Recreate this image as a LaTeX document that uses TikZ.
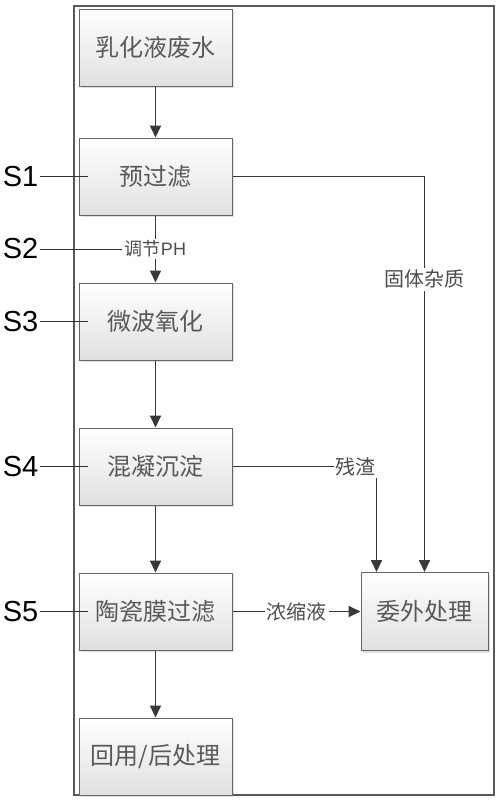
\documentclass[tikz,border=0pt]{standalone}
\usepackage{fontspec}
\setmainfont{Liberation Sans}
\newfontfamily\cjk{Noto Sans CJK SC}
\usetikzlibrary{positioning, arrows.meta, shadows}
\tikzstyle{arrow} = [draw=black!78, line width=1.8pt, -{Triangle[length=12pt,width=11pt]}]

\begin{document}
\begin{tikzpicture}[
    x=1pt, y=-1pt,
    box/.style={rectangle, minimum width=153pt, minimum height=77pt, align=center, draw=black!60, line width=1pt, top color=white, bottom color=black!12, drop shadow={shadow xshift=2pt, shadow yshift=-2pt, opacity=0.25}, text=black!65, font=\cjk\fontsize{24}{28}\selectfont},
    flowlabel/.style={fill=white, inner sep=2pt, text=black!70, font=\cjk\fontsize{20}{22}\selectfont},
    slabel/.style={inner sep=1pt, font=\fontsize{29}{31}\selectfont},
    sline/.style={draw=black!80, line width=0.9pt},
    frame/.style={draw=black!65, line width=1.2pt}
]
    \useasboundingbox (0,0) rectangle (500,803);

    % Frame
    \draw[frame] (74,6) rectangle (494,795);

    % Main line
    \node[box] (raw) at (155.5,47.5) {乳化液废水};
    \node[box, below=51pt of raw] (prefilter) {预过滤};
    \node[box, below=67pt of prefilter] (microwave) {微波氧化};
    \node[box, below=67pt of microwave] (coag) {混凝沉淀};
    \node[box, below=67pt of coag] (membrane) {陶瓷膜过滤};
    \node[box, below=67pt of membrane] (reuse) {回用/后处理};

    % Outsourced treatment
    \node[box, minimum width=127pt, minimum height=78pt, right=128pt of membrane] (outside) {委外处理};

    % Connections
    \draw[arrow] (raw) -- (prefilter);
    \draw[arrow] (prefilter) -- node[flowlabel, font=\cjk\fontsize{18}{20}\selectfont] (ph) {调节\fontspec{Liberation Sans}PH} (microwave);
    \draw[arrow] (microwave) -- (coag);
    \draw[arrow] (coag) -- (membrane);
    \draw[arrow] (membrane) -- (reuse);
    \draw[arrow] (membrane) -- node[flowlabel] {浓缩液} (outside);
    \draw[arrow] (prefilter.east) -| node[flowlabel, pos=0.63] {固体杂质} (outside.north);
    \draw[arrow] (coag.east) -| node[flowlabel, pos=0.5, anchor=east, xshift=2pt] {残渣} ([xshift=-48pt]outside.north);

    % Step labels
    \node[slabel, left=39pt of prefilter] (s1) {S1};
    \node[slabel] (s2) at (s1 |- ph) {S2};
    \node[slabel, left=39pt of microwave] (s3) {S3};
    \node[slabel, left=39pt of coag] (s4) {S4};
    \node[slabel, left=39pt of membrane] (s5) {S5};

    \draw[sline] (s1.east) -- ([xshift=9pt]prefilter.west);
    \draw[sline] (s2.east) -- (ph.west);
    \draw[sline] (s3.east) -- ([xshift=9pt]microwave.west);
    \draw[sline] (s4.east) -- ([xshift=9pt]coag.west);
    \draw[sline] (s5.east) -- ([xshift=9pt]membrane.west);

\end{tikzpicture}
\end{document}
